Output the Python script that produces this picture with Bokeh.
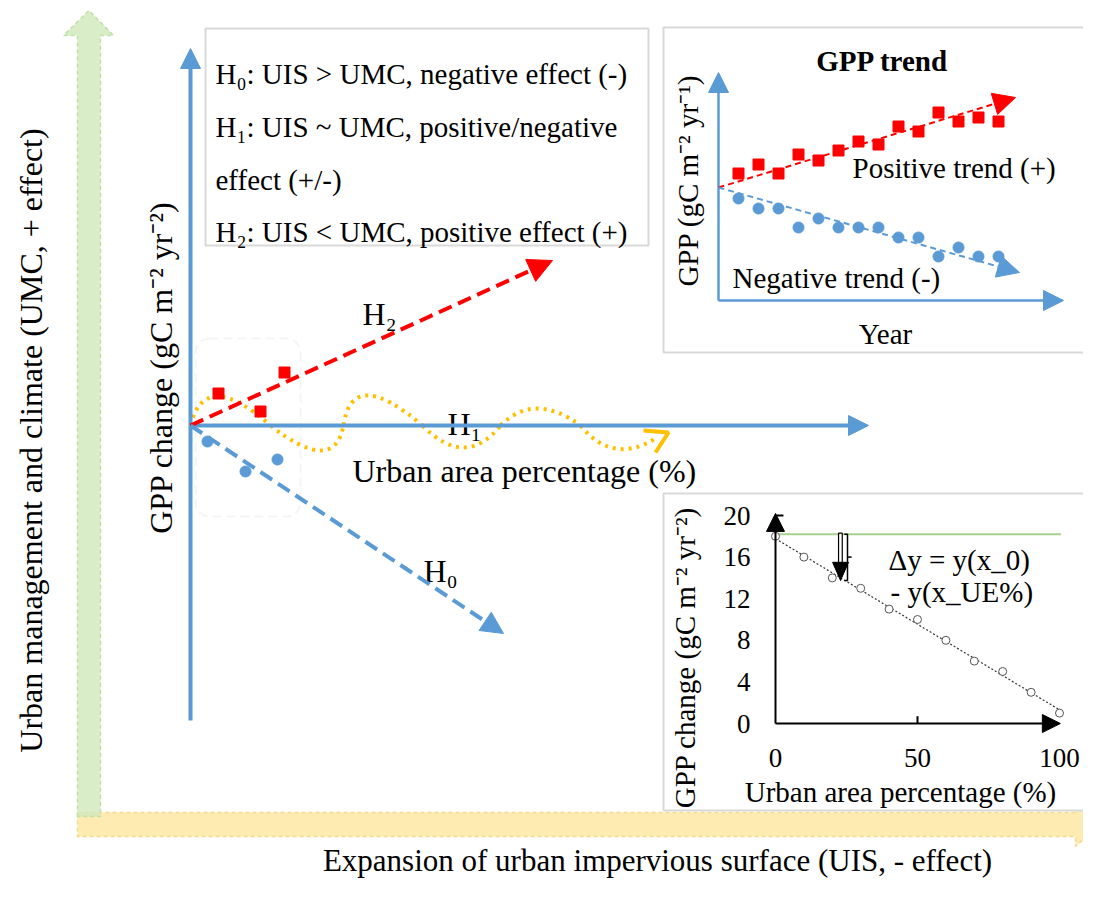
import numpy as np
from bokeh.plotting import figure
from bokeh.models import Range1d, Arrow, NormalHead, BoxAnnotation
from bokeh.core.properties import value
from bokeh.embed import file_html
from bokeh.resources import INLINE

# ------------------------------------------------------------------ data
# Inset "GPP trend" (year index, GPP in arbitrary units)
trend_years = list(range(1, 15))
gpp_pos = [12.7, 13.6, 12.7, 14.6, 14.0, 15.0, 15.9, 15.6, 17.4, 16.9, 18.8, 17.9, 18.3, 17.9]
gpp_neg = [10.2, 9.2, 9.2, 7.3, 8.2, 7.3, 7.3, 7.3, 6.3, 6.3, 4.4, 5.3, 4.4, 4.4]

# Inset "GPP change vs urban area percentage"
urban_pct = [0, 10, 20, 30, 40, 50, 60, 70, 80, 90, 100]
gpp_change = [18, 16, 14, 13, 11, 10, 8, 6, 5, 3, 1]
ua_yticks = [0, 4, 8, 12, 16, 20]
ua_xticks = [0, 50, 100]
baseline_gpp = 18.2

# Main concept diagram: sample points near the origin
h2_x = [2.8, 7.0, 9.4]
h2_y = [3.2, 1.4, 5.3]
h0_x = [1.7, 5.5, 8.7]
h0_y = [-1.6, -4.6, -3.4]

# H1 oscillation: axis crossings and extrema
wave_cross_x = [0.0, 8.0, 15.3, 23.2, 31.0, 39.0]
wave_peak_x = [2.7, 13.0, 17.7, 27.3, 34.7]
wave_peak_y = [2.9, -2.5, 3.0, -2.2, 1.7]

hyp_lines = ["H\u2080: UIS > UMC, negative effect (-)",
             "H\u2081: UIS ~ UMC, positive/negative",
             "effect (+/-)",
             "H\u2082: UIS < UMC, positive effect (+)"]

# ------------------------------------------------------------------ styles
FONT = value("Liberation Serif")
BLUE = "#5b9bd5"
RED = "#ff0000"
YELLOW = "#ffc000"
GREY = "#d9d9d9"

p = figure(width=1083, height=882,
           x_range=Range1d(-19.0, 89.3), y_range=Range1d(-45.7, 42.5),
           x_axis_location=None, y_axis_location=None,
           output_backend="svg", toolbar_location=None, min_border=0)
p.grid.visible = False
p.outline_line_color = None
p.background_fill_color = "white"
p.border_fill_color = "white"
p.extra_x_ranges = {"tr": Range1d(-35.9, 18.25), "ua": Range1d(-272.89, 108.45)}
p.extra_y_ranges = {"tr": Range1d(-58.2, 30.0), "ua": Range1d(-15.288, 69.519)}


def txt(x, y, s, size, rn="default", align="left", baseline="middle", angle=0.0, style="normal"):
    p.text(x=[x], y=[y], text=[s], x_range_name=rn, y_range_name=rn,
           text_font=FONT, text_font_size=f"{size}px", text_color="black",
           text_align=align, text_baseline=baseline, angle=angle,
           text_font_style=style)


def arrow(x0, y0, x1, y1, color, lw, size, dash="solid", rn="default"):
    p.add_layout(Arrow(x_start=x0, y_start=y0, x_end=x1, y_end=y1,
                       x_range_name=rn, y_range_name=rn,
                       line_color=color, line_width=lw, line_dash=dash,
                       end=NormalHead(size=size, fill_color=color, line_color=color, line_width=1)))


# ------------------------------------------------------------------ big background arrows
p.patch([-11.3, 88.5, 88.5, 90.9, 88.5, 88.5, -11.3],
        [-38.7, -38.7, -37.7, -39.9, -42.1, -41.1, -41.1],
        fill_color="#fde7a4", fill_alpha=0.85, line_color="#f6d98a",
        line_dash="4 3", line_width=1.5)
p.patch([-11.3, -11.3, -12.7, -10.15, -7.7, -9.0, -9.0],
        [-39.1, 39.0, 39.0, 41.5, 39.0, 39.0, -39.1],
        fill_color="#cfe9bb", fill_alpha=0.8, line_color="#c0e1a6",
        line_dash="4 3", line_width=1.5)

txt(-16.0, -1.5, "Urban management and climate (UMC, + effect)", 32,
    align="center", angle=np.pi / 2)
txt(46.7, -43.5, "Expansion of urban impervious surface (UIS, - effect)", 31,
    align="center", baseline="alphabetic")

# ------------------------------------------------------------------ hypothesis box
p.quad(left=[1.5], right=[45.8], top=[39.7], bottom=[18.0],
       fill_color="white", line_color=GREY, line_width=2)
for s, yb in zip(hyp_lines, [35.2, 29.9, 24.6, 19.4]):
    txt(2.5, yb, s, 29, baseline="alphabetic")

# ------------------------------------------------------------------ main diagram
p.add_layout(BoxAnnotation(left=0.5, right=11.0, top=8.7, bottom=-9.1,
                           fill_alpha=0, fill_color=None, line_color="#dcdcdc",
                           line_width=2, line_dash="9 5", border_radius=14,
                           level="underlay"))

arrow(0, -29.5, 0, 37.7, BLUE, 4, 20)
arrow(0, 0, 67.8, 0, BLUE, 4, 20)
arrow(0, 0, 36.2, 16.5, RED, 4, 24, dash="14 7")
arrow(0, 0, 31.3, -20.8, BLUE, 4, 22, dash="14 7")

# H1 oscillation (quadratic half-waves through the read extrema)
x0s = wave_cross_x[:-1]
x1s = wave_cross_x[1:]
cxs = [2 * px - 0.5 * (a + b) for px, a, b in zip(wave_peak_x, x0s, x1s)]
cys = [2 * py for py in wave_peak_y]
p.quadratic(x0=x0s, y0=[0] * len(x0s), x1=x1s, y1=[0] * len(x1s), cx=cxs, cy=cys,
            line_color=YELLOW, line_width=4, line_dash="3 5")
p.quadratic(x0=[39.0], y0=[0], x1=[46.5], y1=[-1.3], cx=[42.2], cy=[-3.95],
            line_color=YELLOW, line_width=4, line_dash="3 5")
p.line([45.3, 47.8, 46.5], [-0.5, -0.7, -2.7], line_color=YELLOW, line_width=4)

p.scatter(h2_x, h2_y, marker="square", size=11, color=RED)
p.scatter(h0_x, h0_y, marker="circle", size=11, color=BLUE)

txt(-3.0, 5.8, "GPP change (gC m\u207b\u00b2 yr\u207b\u00b2)", 32, align="center", angle=np.pi / 2)
txt(17.2, 11.2, "H\u2082", 32, baseline="alphabetic")
txt(25.7, 0.15, "H\u2081", 32, baseline="alphabetic")
txt(23.3, -14.5, "H\u2080", 32, baseline="alphabetic")
txt(16.2, -4.5, "Urban area percentage (%)", 32)

# ------------------------------------------------------------------ inset 1: GPP trend
p.quad(left=[47.3], right=[91.5], top=[39.8], bottom=[7.3],
       fill_color="white", line_color=GREY, line_width=2)
txt(8.2, 24.0, "GPP trend", 29, rn="tr", align="center", style="bold")
arrow(0, 0, 0, 22.8, BLUE, 2.5, 20, rn="tr")
arrow(0, 0, 17.25, 0, BLUE, 2.5, 20, rn="tr")
arrow(0, 11.3, 14.85, 20.3, RED, 2, 22, dash="6 4", rn="tr")
arrow(0, 11.3, 15.05, 2.8, BLUE, 2, 22, dash="6 4", rn="tr")
p.scatter(trend_years, gpp_pos, marker="square", size=11, color=RED,
          x_range_name="tr", y_range_name="tr")
p.scatter(trend_years, gpp_neg, marker="circle", size=11, color=BLUE,
          x_range_name="tr", y_range_name="tr")
txt(6.7, 13.3, "Positive trend (+)", 29, rn="tr")
txt(0.7, 2.3, "Negative trend (-)", 29, rn="tr")
txt(8.35, -3.3, "Year", 29, rn="tr", align="center")
txt(-1.55, 12.0, "GPP (gC m\u207b\u00b2 yr\u207b\u00b9)", 29, rn="tr", align="center", angle=np.pi / 2)

# ------------------------------------------------------------------ inset 2: GPP change vs urban %
p.quad(left=[47.3], right=[91.5], top=[-6.8], bottom=[-38.5],
       fill_color="white", line_color=GREY, line_width=2)
p.line([0, 100.5], [baseline_gpp, baseline_gpp], line_color="#a9d18e", line_width=2,
       x_range_name="ua", y_range_name="ua")
slope, icpt = np.polyfit(urban_pct, gpp_change, 1)
p.line([0, 100], [icpt, icpt + slope * 100], line_color="#333333", line_width=1.2,
       line_dash="2 2", x_range_name="ua", y_range_name="ua")
p.scatter(urban_pct, gpp_change, marker="circle", size=8, fill_color="white",
          line_color="#555555", line_width=1, x_range_name="ua", y_range_name="ua")
arrow(0, 0, 0, 20.2, "black", 2, 18, rn="ua")
arrow(0, 0, 100.3, 0, "black", 2, 18, rn="ua")
p.segment(x0=[0, 50], y0=[20, 0], x1=[2.8, 50], y1=[20, 0.7], line_color="black",
          line_width=2, x_range_name="ua", y_range_name="ua")
for t in ua_yticks:
    txt(-8.8, t, str(t), 27, rn="ua", align="right")
for t in ua_xticks:
    txt(t, -3.3, str(t), 27, rn="ua", align="center")
# delta-y marker
p.quad(left=[22.2], right=[23.5], top=[18.3], bottom=[15.4], fill_color="white",
       line_color="black", line_width=1.2, x_range_name="ua", y_range_name="ua")
p.patch([20.1, 25.7, 22.9], [15.5, 15.5, 13.75], fill_color="black", line_color="black",
        x_range_name="ua", y_range_name="ua")
p.line([24.2, 25.35, 25.35, 24.2], [18.2, 18.2, 13.75, 13.75], line_color="black",
       line_width=1.5, x_range_name="ua", y_range_name="ua")
p.segment(x0=[25.35], y0=[16.0], x1=[26.8], y1=[16.0], line_color="black", line_width=1.5,
          x_range_name="ua", y_range_name="ua")
txt(39.8, 15.7, "\u0394y = y(x_0)", 29, rn="ua")
txt(40.5, 12.6, "- y(x_UE%)", 29, rn="ua")
txt(44.0, -6.6, "Urban area percentage (%)", 29, rn="ua", align="center")
txt(-31.7, 6.35, "GPP change (gC m\u207b\u00b2 yr\u207b\u00b2)", 29, rn="ua", align="center",
    angle=np.pi / 2)

open("out.html", "w").write(file_html(p, INLINE))
